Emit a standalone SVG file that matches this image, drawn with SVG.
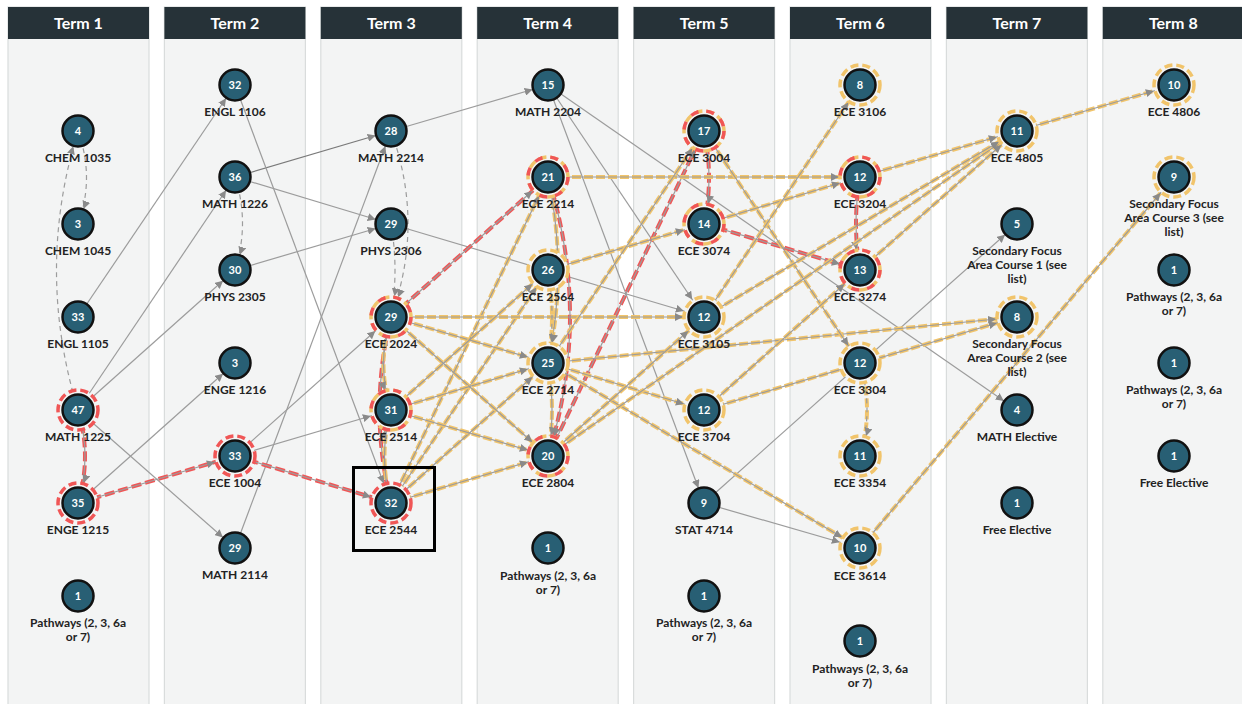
<svg xmlns="http://www.w3.org/2000/svg" width="1242" height="704" viewBox="0 0 1242 704">
<style>
.col{fill:#f3f4f4;stroke:#d9dcdc;stroke-width:1.2}
.hdr{fill:#263238}
.ht{fill:#fff;font-family:Lato,'Noto Sans',sans-serif;font-weight:700;font-size:16px;text-anchor:middle}
.nc{fill:#285f74;stroke:#111;stroke-width:2.5}
.nn{fill:#fff;font-family:Lato,'Noto Sans',sans-serif;font-weight:700;font-size:11px;text-anchor:middle}
.lb{fill:#222;font-family:Lato,'Noto Sans',sans-serif;font-weight:700;font-size:12px;text-anchor:middle}
.ry{fill:#f3f4f4;stroke:#f1c46b;stroke-width:3.5;stroke-dasharray:8 4}
.rr{fill:none;stroke:#f05656;stroke-width:3.5;stroke-dasharray:8 8}
.rro{fill:#f3f4f4;stroke:#f05656;stroke-width:3.5;stroke-dasharray:8 4}
.e{fill:none;stroke:#9c9c9c;stroke-width:1.2}
.dk{stroke:#7a7a7a}
.d{stroke-dasharray:5 4}
.ma{marker-end:url(#a)}
.mb{marker-end:url(#b)}
.hy{fill:none;stroke:#f1c46b;stroke-width:4;stroke-dasharray:9 3}
.hr{fill:none;stroke:#f05656;stroke-width:4;stroke-dasharray:10 4}
</style>
<defs>
<marker id="a" markerUnits="userSpaceOnUse" viewBox="0 0 30 8" markerWidth="30" markerHeight="8" refX="24" refY="4" orient="auto"><path d="M0,0 L8,4 L0,8 z" fill="#8a8a8a"/></marker>
<marker id="b" markerUnits="userSpaceOnUse" viewBox="0 0 30 8" markerWidth="30" markerHeight="8" refX="29" refY="4" orient="auto"><path d="M0,0 L8,4 L0,8 z" fill="#8a8a8a"/></marker>
</defs>
<rect width="1242" height="704" fill="#fff"/>
<g id="columns">
<rect class="col" x="8" y="7" width="141" height="710"/><rect class="hdr" x="8" y="7" width="141" height="32"/><text class="ht" x="78.5" y="29">Term 1</text>
<rect class="col" x="164.4" y="7" width="141" height="710"/><rect class="hdr" x="164.4" y="7" width="141" height="32"/><text class="ht" x="235" y="29">Term 2</text>
<rect class="col" x="320.8" y="7" width="141" height="710"/><rect class="hdr" x="320.8" y="7" width="141" height="32"/><text class="ht" x="391.3" y="29">Term 3</text>
<rect class="col" x="477.2" y="7" width="141" height="710"/><rect class="hdr" x="477.2" y="7" width="141" height="32"/><text class="ht" x="547.7" y="29">Term 4</text>
<rect class="col" x="633.6" y="7" width="141" height="710"/><rect class="hdr" x="633.6" y="7" width="141" height="32"/><text class="ht" x="704.1" y="29">Term 5</text>
<rect class="col" x="790" y="7" width="141" height="710"/><rect class="hdr" x="790" y="7" width="141" height="32"/><text class="ht" x="860.5" y="29">Term 6</text>
<rect class="col" x="946.4" y="7" width="141" height="710"/><rect class="hdr" x="946.4" y="7" width="141" height="32"/><text class="ht" x="1016.9" y="29">Term 7</text>
<rect class="col" x="1102.8" y="7" width="141" height="710"/><rect class="hdr" x="1102.8" y="7" width="141" height="32"/><text class="ht" x="1173.3" y="29">Term 8</text>
</g>
<g id="connectors">
<path class="e d ma" d="M78,131 Q95,178 78,224"/>
<path class="e d ma" d="M78,410 Q35,270 78,131"/>
<path class="e ma" d="M78,317 L235,85"/>
<path class="e ma" d="M78,410 L235,177"/>
<path class="e ma" d="M78,410 L235,270"/>
<path class="e ma" d="M78,410 L235,548"/>
<path class="e ma" d="M78,503 L235,363"/>
<path class="e dk ma" d="M235,177 L391,131"/>
<path class="e ma" d="M235,177 L391,224"/>
<path class="e d ma" d="M235,177 Q250,223 235,270"/>
<path class="e ma" d="M235,270 L391,224"/>
<path class="e mb" d="M235,85 L391,503"/>
<path class="e mb" d="M235,456 L391,317"/>
<path class="e mb" d="M235,456 L391,410"/>
<path class="e ma" d="M235,548 L391,131"/>
<path class="e ma" d="M391,131 L548,85"/>
<path class="e d mb" d="M391,131 Q425,224 391,317"/>
<path class="e d mb" d="M391,224 Q399,270 391,317"/>
<path class="e mb" d="M391,224 L704,317"/>
<path class="e ma" d="M548,85 L704,503"/>
<path class="e mb" d="M548,85 L704,317"/>
<path class="e ma" d="M548,85 L1017,410"/>
<path class="e mb" d="M704,503 L860,548"/>
<path class="e ma" d="M704,503 L1017,224"/>
<path class="hr" d="M78,410 Q92,456 78,503"/><path class="e mb" d="M78,410 Q92,456 78,503"/>
<path class="hr" d="M78,503 L235,456"/><path class="e mb" d="M78,503 L235,456"/>
<path class="hr" d="M235,456 L391,503"/><path class="e mb" d="M235,456 L391,503"/>
<path class="hr" d="M391,503 Q368,410 391,317"/><path class="e mb" d="M391,503 Q368,410 391,317"/>
<path class="hr" d="M391,317 L548,177"/><path class="e mb" d="M391,317 L548,177"/>
<path class="hr" d="M548,177 Q592,316 548,456"/><path class="e mb" d="M548,177 Q592,316 548,456"/>
<path class="hr" d="M548,456 L704,131"/><path class="e mb" d="M548,456 L704,131"/>
<path class="hr" d="M704,131 Q714,178 704,224"/><path class="e mb" d="M704,131 Q714,178 704,224"/>
<path class="hr" d="M704,224 L860,270"/><path class="e mb" d="M704,224 L860,270"/>
<path class="hr" d="M860,177 Q852,224 860,270"/><path class="e mb" d="M860,177 Q852,224 860,270"/>
<path class="hy" d="M391,503 Q378,456 391,410"/><path class="e mb" d="M391,503 Q378,456 391,410"/>
<path class="hy" d="M391,317 Q376,363 391,410"/><path class="e mb" d="M391,317 Q376,363 391,410"/>
<path class="hy" d="M391,503 L548,177"/><path class="e mb" d="M391,503 L548,177"/>
<path class="hy" d="M391,503 L548,270"/><path class="e mb" d="M391,503 L548,270"/>
<path class="hy" d="M391,503 L548,363"/><path class="e mb" d="M391,503 L548,363"/>
<path class="hy" d="M391,503 L548,456"/><path class="e mb" d="M391,503 L548,456"/>
<path class="hy" d="M391,317 L704,317"/><path class="e mb" d="M391,317 L704,317"/>
<path class="hy" d="M391,317 L548,363"/><path class="e mb" d="M391,317 L548,363"/>
<path class="hy" d="M391,317 L548,456"/><path class="e mb" d="M391,317 L548,456"/>
<path class="hy" d="M391,410 L548,270"/><path class="e mb" d="M391,410 L548,270"/>
<path class="hy" d="M391,410 L548,363"/><path class="e mb" d="M391,410 L548,363"/>
<path class="hy" d="M391,410 L548,456"/><path class="e mb" d="M391,410 L548,456"/>
<path class="hy" d="M548,177 L860,177"/><path class="e mb" d="M548,177 L860,177"/>
<path class="hy" d="M548,177 Q568,270 548,363"/><path class="e mb" d="M548,177 Q568,270 548,363"/>
<path class="hy" d="M548,270 Q556,316 548,363"/><path class="e d mb" d="M548,270 Q556,316 548,363"/>
<path class="hy" d="M548,363 Q556,410 548,456"/><path class="e mb" d="M548,363 Q556,410 548,456"/>
<path class="hy" d="M548,270 L704,224"/><path class="e mb" d="M548,270 L704,224"/>
<path class="hy" d="M548,363 L704,410"/><path class="e mb" d="M548,363 L704,410"/>
<path class="hy" d="M548,363 L860,548"/><path class="e mb" d="M548,363 L860,548"/>
<path class="hy" d="M548,363 L1017,317"/><path class="e mb" d="M548,363 L1017,317"/>
<path class="hy" d="M548,363 L704,131"/><path class="e mb" d="M548,363 L704,131"/>
<path class="hy" d="M548,456 L704,317"/><path class="e mb" d="M548,456 L704,317"/>
<path class="hy" d="M548,456 L1017,131"/><path class="e mb" d="M548,456 L1017,131"/>
<path class="hy" d="M704,131 L860,363"/><path class="e mb" d="M704,131 L860,363"/>
<path class="hy" d="M704,224 L860,177"/><path class="e mb" d="M704,224 L860,177"/>
<path class="hy" d="M704,317 L860,85"/><path class="e mb" d="M704,317 L860,85"/>
<path class="hy" d="M704,317 L1017,131"/><path class="e mb" d="M704,317 L1017,131"/>
<path class="hy" d="M704,410 L1017,317"/><path class="e mb" d="M704,410 L1017,317"/>
<path class="hy" d="M704,410 L860,270"/><path class="e mb" d="M704,410 L860,270"/>
<path class="hy" d="M860,177 L1017,131"/><path class="e mb" d="M860,177 L1017,131"/>
<path class="hy" d="M860,270 L1017,131"/><path class="e mb" d="M860,270 L1017,131"/>
<path class="hy" d="M860,363 Q874,410 860,456"/><path class="e d mb" d="M860,363 Q874,410 860,456"/>
<path class="hy" d="M860,548 L1174,177"/><path class="e mb" d="M860,548 L1174,177"/>
<path class="hy" d="M1017,131 L1174,85"/><path class="e mb" d="M1017,131 L1174,85"/>
</g>
<g id="n-chem1035"><circle class="nc" cx="78" cy="131" r="15.5"/><text class="nn" x="78" y="135">4</text><text class="lb" x="78" y="162">CHEM 1035</text></g>
<g id="n-chem1045"><circle class="nc" cx="78" cy="224" r="15.5"/><text class="nn" x="78" y="228">3</text><text class="lb" x="78" y="255">CHEM 1045</text></g>
<g id="n-engl1105"><circle class="nc" cx="78" cy="317" r="15.5"/><text class="nn" x="78" y="321">33</text><text class="lb" x="78" y="348">ENGL 1105</text></g>
<g id="n-math1225"><circle class="rro" cx="78" cy="410" r="20"/><circle class="nc" cx="78" cy="410" r="15.5"/><text class="nn" x="78" y="414">47</text><text class="lb" x="78" y="441">MATH 1225</text></g>
<g id="n-enge1215"><circle class="rro" cx="78" cy="503" r="20"/><circle class="nc" cx="78" cy="503" r="15.5"/><text class="nn" x="78" y="507">35</text><text class="lb" x="78" y="534">ENGE 1215</text></g>
<g id="n-t1-path"><circle class="nc" cx="78" cy="596" r="15.5"/><text class="nn" x="78" y="600">1</text><text class="lb" x="78" y="627">Pathways (2, 3, 6a</text><text class="lb" x="78" y="641">or 7)</text></g>
<g id="n-engl1106"><circle class="nc" cx="235" cy="85" r="15.5"/><text class="nn" x="235" y="89">32</text><text class="lb" x="235" y="116">ENGL 1106</text></g>
<g id="n-math1226"><circle class="nc" cx="235" cy="177" r="15.5"/><text class="nn" x="235" y="181">36</text><text class="lb" x="235" y="208">MATH 1226</text></g>
<g id="n-phys2305"><circle class="nc" cx="235" cy="270" r="15.5"/><text class="nn" x="235" y="274">30</text><text class="lb" x="235" y="301">PHYS 2305</text></g>
<g id="n-enge1216"><circle class="nc" cx="235" cy="363" r="15.5"/><text class="nn" x="235" y="367">3</text><text class="lb" x="235" y="394">ENGE 1216</text></g>
<g id="n-ece1004"><circle class="rro" cx="235" cy="456" r="20"/><circle class="nc" cx="235" cy="456" r="15.5"/><text class="nn" x="235" y="460">33</text><text class="lb" x="235" y="487">ECE 1004</text></g>
<g id="n-math2114"><circle class="nc" cx="235" cy="548" r="15.5"/><text class="nn" x="235" y="552">29</text><text class="lb" x="235" y="579">MATH 2114</text></g>
<g id="n-math2214"><circle class="nc" cx="391" cy="131" r="15.5"/><text class="nn" x="391" y="135">28</text><text class="lb" x="391" y="162">MATH 2214</text></g>
<g id="n-phys2306"><circle class="nc" cx="391" cy="224" r="15.5"/><text class="nn" x="391" y="228">29</text><text class="lb" x="391" y="255">PHYS 2306</text></g>
<g id="n-ece2024"><circle class="ry" cx="391" cy="317" r="20"/><circle class="rr" cx="391" cy="317" r="20"/><circle class="nc" cx="391" cy="317" r="15.5"/><text class="nn" x="391" y="321">29</text><text class="lb" x="391" y="348">ECE 2024</text></g>
<g id="n-ece2514"><circle class="ry" cx="391" cy="410" r="20"/><circle class="rr" cx="391" cy="410" r="20"/><circle class="nc" cx="391" cy="410" r="15.5"/><text class="nn" x="391" y="414">31</text><text class="lb" x="391" y="441">ECE 2514</text></g>
<g id="n-ece2544"><circle class="rro" cx="391" cy="503" r="20"/><circle class="nc" cx="391" cy="503" r="15.5"/><text class="nn" x="391" y="507">32</text><text class="lb" x="391" y="534">ECE 2544</text><rect x="353.5" y="467.5" width="81" height="83" fill="none" stroke="#000" stroke-width="3"/></g>
<g id="n-math2204"><circle class="nc" cx="548" cy="85" r="15.5"/><text class="nn" x="548" y="89">15</text><text class="lb" x="548" y="116">MATH 2204</text></g>
<g id="n-ece2214"><circle class="ry" cx="548" cy="177" r="20"/><circle class="rr" cx="548" cy="177" r="20"/><circle class="nc" cx="548" cy="177" r="15.5"/><text class="nn" x="548" y="181">21</text><text class="lb" x="548" y="208">ECE 2214</text></g>
<g id="n-ece2564"><circle class="ry" cx="548" cy="270" r="20"/><circle class="nc" cx="548" cy="270" r="15.5"/><text class="nn" x="548" y="274">26</text><text class="lb" x="548" y="301">ECE 2564</text></g>
<g id="n-ece2714"><circle class="ry" cx="548" cy="363" r="20"/><circle class="nc" cx="548" cy="363" r="15.5"/><text class="nn" x="548" y="367">25</text><text class="lb" x="548" y="394">ECE 2714</text></g>
<g id="n-ece2804"><circle class="ry" cx="548" cy="456" r="20"/><circle class="rr" cx="548" cy="456" r="20"/><circle class="nc" cx="548" cy="456" r="15.5"/><text class="nn" x="548" y="460">20</text><text class="lb" x="548" y="487">ECE 2804</text></g>
<g id="n-t4-path"><circle class="nc" cx="548" cy="548" r="15.5"/><text class="nn" x="548" y="552">1</text><text class="lb" x="548" y="580">Pathways (2, 3, 6a</text><text class="lb" x="548" y="594">or 7)</text></g>
<g id="n-ece3004"><circle class="ry" cx="704" cy="131" r="20"/><circle class="rr" cx="704" cy="131" r="20"/><circle class="nc" cx="704" cy="131" r="15.5"/><text class="nn" x="704" y="135">17</text><text class="lb" x="704" y="162">ECE 3004</text></g>
<g id="n-ece3074"><circle class="ry" cx="704" cy="224" r="20"/><circle class="rr" cx="704" cy="224" r="20"/><circle class="nc" cx="704" cy="224" r="15.5"/><text class="nn" x="704" y="228">14</text><text class="lb" x="704" y="255">ECE 3074</text></g>
<g id="n-ece3105"><circle class="ry" cx="704" cy="317" r="20"/><circle class="nc" cx="704" cy="317" r="15.5"/><text class="nn" x="704" y="321">12</text><text class="lb" x="704" y="348">ECE 3105</text></g>
<g id="n-ece3704"><circle class="ry" cx="704" cy="410" r="20"/><circle class="nc" cx="704" cy="410" r="15.5"/><text class="nn" x="704" y="414">12</text><text class="lb" x="704" y="441">ECE 3704</text></g>
<g id="n-stat4714"><circle class="nc" cx="704" cy="503" r="15.5"/><text class="nn" x="704" y="507">9</text><text class="lb" x="704" y="534">STAT 4714</text></g>
<g id="n-t5-path"><circle class="nc" cx="704" cy="596" r="15.5"/><text class="nn" x="704" y="600">1</text><text class="lb" x="704" y="627">Pathways (2, 3, 6a</text><text class="lb" x="704" y="641">or 7)</text></g>
<g id="n-ece3106"><circle class="ry" cx="860" cy="85" r="20"/><circle class="nc" cx="860" cy="85" r="15.5"/><text class="nn" x="860" y="89">8</text><text class="lb" x="860" y="116">ECE 3106</text></g>
<g id="n-ece3204"><circle class="ry" cx="860" cy="177" r="20"/><circle class="rr" cx="860" cy="177" r="20"/><circle class="nc" cx="860" cy="177" r="15.5"/><text class="nn" x="860" y="181">12</text><text class="lb" x="860" y="208">ECE 3204</text></g>
<g id="n-ece3274"><circle class="ry" cx="860" cy="270" r="20"/><circle class="rr" cx="860" cy="270" r="20"/><circle class="nc" cx="860" cy="270" r="15.5"/><text class="nn" x="860" y="274">13</text><text class="lb" x="860" y="301">ECE 3274</text></g>
<g id="n-ece3304"><circle class="ry" cx="860" cy="363" r="20"/><circle class="nc" cx="860" cy="363" r="15.5"/><text class="nn" x="860" y="367">12</text><text class="lb" x="860" y="394">ECE 3304</text></g>
<g id="n-ece3354"><circle class="ry" cx="860" cy="456" r="20"/><circle class="nc" cx="860" cy="456" r="15.5"/><text class="nn" x="860" y="460">11</text><text class="lb" x="860" y="487">ECE 3354</text></g>
<g id="n-ece3614"><circle class="ry" cx="860" cy="548" r="20"/><circle class="nc" cx="860" cy="548" r="15.5"/><text class="nn" x="860" y="552">10</text><text class="lb" x="860" y="580">ECE 3614</text></g>
<g id="n-t6-path"><circle class="nc" cx="860" cy="641" r="15.5"/><text class="nn" x="860" y="645">1</text><text class="lb" x="860" y="673">Pathways (2, 3, 6a</text><text class="lb" x="860" y="687">or 7)</text></g>
<g id="n-ece4805"><circle class="ry" cx="1017" cy="131" r="20"/><circle class="nc" cx="1017" cy="131" r="15.5"/><text class="nn" x="1017" y="135">11</text><text class="lb" x="1017" y="162">ECE 4805</text></g>
<g id="n-sfa1"><circle class="nc" cx="1017" cy="224" r="15.5"/><text class="nn" x="1017" y="228">5</text><text class="lb" x="1017" y="255">Secondary Focus</text><text class="lb" x="1017" y="269">Area Course 1 (see</text><text class="lb" x="1017" y="283">list)</text></g>
<g id="n-sfa2"><circle class="ry" cx="1017" cy="317" r="20"/><circle class="nc" cx="1017" cy="317" r="15.5"/><text class="nn" x="1017" y="321">8</text><text class="lb" x="1017" y="348">Secondary Focus</text><text class="lb" x="1017" y="362">Area Course 2 (see</text><text class="lb" x="1017" y="376">list)</text></g>
<g id="n-mathel"><circle class="nc" cx="1017" cy="410" r="15.5"/><text class="nn" x="1017" y="414">4</text><text class="lb" x="1017" y="441">MATH Elective</text></g>
<g id="n-free7"><circle class="nc" cx="1017" cy="503" r="15.5"/><text class="nn" x="1017" y="507">1</text><text class="lb" x="1017" y="534">Free Elective</text></g>
<g id="n-ece4806"><circle class="ry" cx="1174" cy="85" r="20"/><circle class="nc" cx="1174" cy="85" r="15.5"/><text class="nn" x="1174" y="89">10</text><text class="lb" x="1174" y="116">ECE 4806</text></g>
<g id="n-sfa3"><circle class="ry" cx="1174" cy="177" r="20"/><circle class="nc" cx="1174" cy="177" r="15.5"/><text class="nn" x="1174" y="181">9</text><text class="lb" x="1174" y="208">Secondary Focus</text><text class="lb" x="1174" y="222">Area Course 3 (see</text><text class="lb" x="1174" y="236">list)</text></g>
<g id="n-t8-path1"><circle class="nc" cx="1174" cy="270" r="15.5"/><text class="nn" x="1174" y="274">1</text><text class="lb" x="1174" y="301">Pathways (2, 3, 6a</text><text class="lb" x="1174" y="315">or 7)</text></g>
<g id="n-t8-path2"><circle class="nc" cx="1174" cy="363" r="15.5"/><text class="nn" x="1174" y="367">1</text><text class="lb" x="1174" y="394">Pathways (2, 3, 6a</text><text class="lb" x="1174" y="408">or 7)</text></g>
<g id="n-free8"><circle class="nc" cx="1174" cy="456" r="15.5"/><text class="nn" x="1174" y="460">1</text><text class="lb" x="1174" y="487">Free Elective</text></g>
</svg>
